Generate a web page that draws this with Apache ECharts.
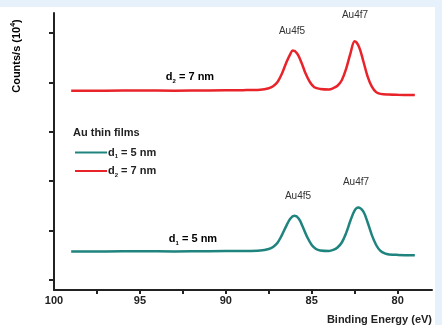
<!DOCTYPE html>
<html>
<head>
<meta charset="utf-8">
<script src="https://cdn.jsdelivr.net/npm/echarts@6/dist/echarts.min.js"></script>
<style>
  html, body { margin: 0; padding: 0; background: #e6f1fb; }
  #chart { width: 442px; height: 325px; }
</style>
</head>
<body>
<div id="chart"></div>
<script>
// XPS Au 4f spectra of two Au thin films (binding energy in eV, counts/s in 10^4)
const energy5nm = [99.0, 97.0, 95.0, 93.0, 91.0, 89.0, 88.0, 87.5, 87.25, 87.0, 86.75, 86.5, 86.25, 86.0,
  85.75, 85.5, 85.25, 85.0, 84.75, 84.5, 84.0, 83.75, 83.5, 83.25, 83.0, 82.75, 82.5, 82.3,
  82.0, 81.75, 81.5, 81.25, 81.0, 80.75, 80.5, 80.0, 79.0];
const counts5nm = [1.58, 1.58, 1.585, 1.58, 1.585, 1.59, 1.60, 1.63, 1.67, 1.75, 1.90, 2.08, 2.24, 2.30,
  2.24, 2.06, 1.86, 1.71, 1.63, 1.60, 1.59, 1.61, 1.66, 1.76, 1.95, 2.20, 2.41, 2.47,
  2.39, 2.17, 1.91, 1.71, 1.59, 1.54, 1.52, 1.51, 1.505];

const energy7nm = [99.0, 97.0, 95.0, 93.0, 91.0, 89.0, 88.0, 87.5, 87.25, 87.0, 86.75, 86.5, 86.25, 86.1,
  85.85, 85.6, 85.35, 85.1, 84.85, 84.5, 84.0, 83.75, 83.5, 83.25, 83.0, 82.75, 82.5,
  82.25, 82.0, 81.75, 81.5, 81.25, 81.0, 80.5, 80.0, 79.0];
const counts7nm = [4.83, 4.83, 4.835, 4.83, 4.835, 4.84, 4.85, 4.88, 4.92, 5.00, 5.16, 5.38, 5.57, 5.64,
  5.58, 5.40, 5.17, 5.00, 4.90, 4.865, 4.855, 4.88, 4.93, 5.04, 5.27, 5.58, 5.83,
  5.72, 5.43, 5.12, 4.91, 4.80, 4.765, 4.75, 4.745, 4.74];

const xLabelValues = [100, 95, 90, 85, 80];
const xTickValues = [97.5, 95, 92.5, 90, 87.5, 85, 82.5, 80];
const yTickValues = [1, 2, 3, 4, 5, 6];

const seriesNames = ['d1 = 5 nm', 'd2 = 7 nm'];
const seriesColors = ['#1f837e', '#e8232a'];

function zip(xs, ys) { return xs.map((x, i) => [x, ys[i]]); }

const ink = '#222';
const font = 'Liberation Sans, Arial, sans-serif';
const labelRich = {
  b: { fontFamily: font, fontWeight: 'bold', fontSize: 11, color: ink, lineHeight: 14, verticalAlign: 'middle' },
  s: { fontFamily: font, fontWeight: 'bold', fontSize: 6, color: ink, lineHeight: 14, verticalAlign: 'bottom' }
};

const chart = echarts.init(document.getElementById('chart'));
chart.setOption({
  backgroundColor: '#e6f1fb',
  animation: false,
  grid: { left: 54, right: 10, top: 13, bottom: 35, containLabel: false },
  xAxis: {
    type: 'value', min: 78, max: 100, inverse: true,
    axisLine: { lineStyle: { color: ink, width: 2 } },
    axisTick: { show: true, inside: false, length: 4, customValues: xTickValues, lineStyle: { color: ink, width: 2 } },
    axisLabel: { customValues: xLabelValues, color: ink, fontFamily: font, fontWeight: 'bold', fontSize: 11, margin: 5 },
    splitLine: { show: false }
  },
  yAxis: {
    type: 'value', min: 0.8, max: 6.4,
    axisLine: { show: true, lineStyle: { color: ink, width: 2 } },
    axisTick: { show: true, inside: false, length: 5, customValues: yTickValues, lineStyle: { color: ink, width: 2 } },
    axisLabel: { show: false },
    splitLine: { show: false }
  },
  legend: {
    orient: 'vertical', left: 70, top: 142, itemGap: 6,
    itemWidth: 32, itemHeight: 12,
    data: seriesNames,
    icon: 'path://M0,5 L32,5 L32,7 L0,7 Z',
    formatter: name => name === seriesNames[0]
      ? '{b|d}{s|1}{b| = 5 nm}' : '{b|d}{s|2}{b| = 7 nm}',
    textStyle: { rich: labelRich, padding: [0, 0, 0, -4] }
  },
  series: [
    {
      name: seriesNames[0], type: 'line', data: zip(energy5nm, counts5nm),
      smooth: 0.35, showSymbol: false, symbol: 'none',
      lineStyle: { color: seriesColors[0], width: 2.5 }, itemStyle: { color: seriesColors[0] }
    },
    {
      name: seriesNames[1], type: 'line', data: zip(energy7nm, counts7nm),
      smooth: 0.35, showSymbol: false, symbol: 'none',
      lineStyle: { color: seriesColors[1], width: 2.5 }, itemStyle: { color: seriesColors[1] }
    }
  ],
  graphic: [
    { type: 'rect', z: -10, silent: true, shape: { x: 0, y: 7, width: 435, height: 318 }, style: { fill: '#ffffff' } },
    // axis titles
    { type: 'text', x: 17, y: 56, rotation: Math.PI / 2, style: {
        text: '{a|Counts/s (10}{p|4}{a|)}', align: 'center', verticalAlign: 'middle',
        rich: {
          a: { fontFamily: font, fontWeight: 'bold', fontSize: 11, color: ink, lineHeight: 14, verticalAlign: 'middle' },
          p: { fontFamily: font, fontWeight: 'bold', fontSize: 7, color: ink, lineHeight: 14, verticalAlign: 'top' }
        } } },
    { type: 'text', x: 432, y: 314, style: { text: 'Binding Energy (eV)', align: 'right', verticalAlign: 'top',
        fontFamily: font, fontWeight: 'bold', fontSize: 11, fill: ink } },
    // legend title
    { type: 'text', x: 73, y: 133, style: { text: 'Au thin films', align: 'left', verticalAlign: 'middle',
        fontFamily: font, fontWeight: 'bold', fontSize: 11, fill: ink } },
    // curve labels
    { type: 'text', x: 190, y: 77, style: { text: '{b|d}{s|2}{b| = 7 nm}', align: 'center', verticalAlign: 'middle', rich: labelRich } },
    { type: 'text', x: 193, y: 239, style: { text: '{b|d}{s|1}{b| = 5 nm}', align: 'center', verticalAlign: 'middle', rich: labelRich } },
    // peak labels
    { type: 'text', x: 292, y: 31, style: { text: 'Au4f5', align: 'center', verticalAlign: 'middle', fontFamily: font, fontSize: 10, fill: '#333' } },
    { type: 'text', x: 355, y: 15, style: { text: 'Au4f7', align: 'center', verticalAlign: 'middle', fontFamily: font, fontSize: 10, fill: '#333' } },
    { type: 'text', x: 298, y: 196, style: { text: 'Au4f5', align: 'center', verticalAlign: 'middle', fontFamily: font, fontSize: 10, fill: '#333' } },
    { type: 'text', x: 356, y: 182, style: { text: 'Au4f7', align: 'center', verticalAlign: 'middle', fontFamily: font, fontSize: 10, fill: '#333' } }
  ]
});
</script>
</body>
</html>
